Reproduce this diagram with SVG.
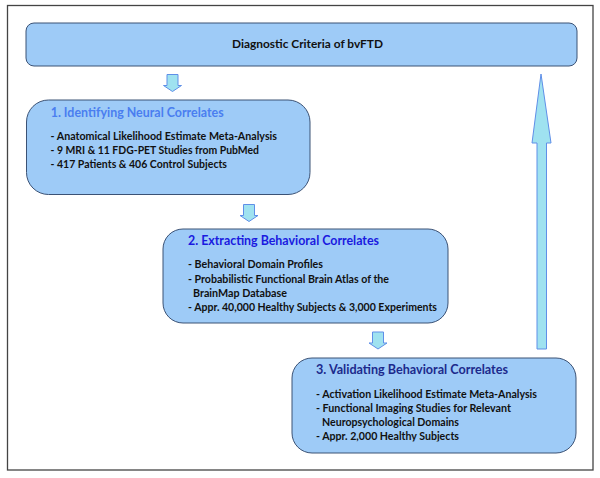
<svg xmlns="http://www.w3.org/2000/svg" width="600" height="478" viewBox="0 0 600 478">
<defs>
<style>
.box{fill:#9ecbf7;stroke:#3b5275;stroke-width:1}
.arr{fill:#9fe2f0;stroke:#5f8fe8;stroke-width:1}
text{font-family:Lato,"Liberation Sans",sans-serif;font-weight:bold}
.b{font-size:10.5px;fill:#111}
.t{font-size:12.6px}
.m{font-size:11.6px;fill:#111}
</style>
<path id="dn" d="M3.5,0 H14.5 V11 H18 L9,17 L0,11 H3.5 Z"/>
<clipPath id="cl"><rect x="300" y="430" width="270" height="11.5"/></clipPath>
</defs>
<rect x="0" y="0" width="600" height="478" fill="#fff"/>
<rect x="7.5" y="5.5" width="585.5" height="464.5" fill="#fff" stroke="#444" stroke-width="1.3"/>
<g id="connectors">
<use href="#dn" class="arr" transform="translate(163.5,74.5)"/>
<use href="#dn" class="arr" transform="translate(240,204.5)"/>
<use href="#dn" class="arr" transform="translate(369,332)"/>
<path class="arr" d="M541,74 L551,143 H546.5 V349 H537 V143 H532 Z"/>
</g>
<g id="top">
<rect class="box" x="26" y="23" width="551" height="43" rx="8"/>
<text class="m" x="232" y="48" textLength="151" lengthAdjust="spacingAndGlyphs">Diagnostic Criteria of bvFTD</text>
</g>
<g id="box1">
<rect class="box" x="26.5" y="100" width="283.5" height="94.5" rx="22"/>
<text class="t" x="50.7" y="116.7" fill="#4a7ef0" textLength="173" lengthAdjust="spacingAndGlyphs">1. Identifying Neural Correlates</text>
<text class="b" x="50.5" y="140" textLength="226.5" lengthAdjust="spacingAndGlyphs">- Anatomical Likelihood Estimate Meta-Analysis</text>
<text class="b" x="50.5" y="154" textLength="208.5" lengthAdjust="spacingAndGlyphs">- 9 MRI &amp; 11 FDG-PET Studies from PubMed</text>
<text class="b" x="50.5" y="167.8" textLength="176.5" lengthAdjust="spacingAndGlyphs">- 417 Patients &amp; 406 Control Subjects</text>
</g>
<g id="box2">
<rect class="box" x="163" y="229" width="285" height="94" rx="20"/>
<text class="t" x="188" y="245" fill="#1a1ae0" textLength="191" lengthAdjust="spacingAndGlyphs">2. Extracting Behavioral Correlates</text>
<text class="b" x="188" y="268" textLength="135" lengthAdjust="spacingAndGlyphs">- Behavioral Domain Profiles</text>
<text class="b" x="188" y="283" textLength="201" lengthAdjust="spacingAndGlyphs">- Probabilistic Functional Brain Atlas of the</text>
<text class="b" x="193" y="297" textLength="94" lengthAdjust="spacingAndGlyphs">BrainMap Database</text>
<text class="b" x="188" y="311" textLength="249" lengthAdjust="spacingAndGlyphs">- Appr. 40,000 Healthy Subjects &amp; 3,000 Experiments</text>
</g>
<g id="box3">
<rect class="box" x="292" y="358" width="284" height="95" rx="20"/>
<text class="t" x="316" y="374" fill="#1c2a8c" textLength="192" lengthAdjust="spacingAndGlyphs">3. Validating Behavioral Correlates</text>
<text class="b" x="316" y="398" textLength="221" lengthAdjust="spacingAndGlyphs">- Activation Likelihood Estimate Meta-Analysis</text>
<text class="b" x="316" y="412" textLength="195" lengthAdjust="spacingAndGlyphs">- Functional Imaging Studies for Relevant</text>
<text class="b" x="322" y="426" textLength="137" lengthAdjust="spacingAndGlyphs">Neuropsychological Domains</text>
<text class="b" x="316" y="440" textLength="143" lengthAdjust="spacingAndGlyphs" clip-path="url(#cl)">- Appr. 2,000 Healthy Subjects</text>
</g>
</svg>
